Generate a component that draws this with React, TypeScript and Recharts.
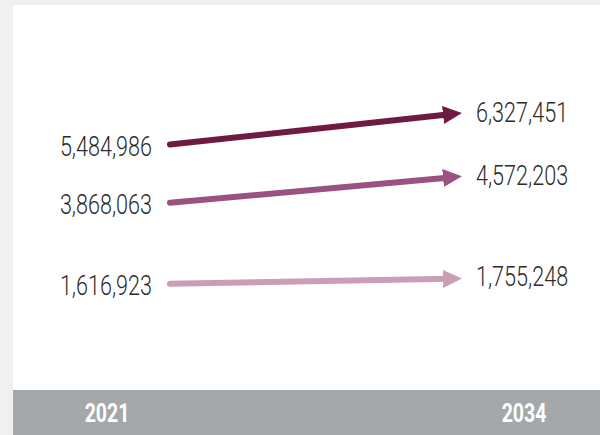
import * as React from "react";
import { LineChart, Line, XAxis, YAxis, LabelList } from "recharts";

const years = ["2021", "2034"];
const seriesTop = [5484986, 6327451];
const seriesMid = [3868063, 4572203];
const seriesLow = [1616923, 1755248];

const colors = { top: "#6f1a41", mid: "#9b5281", low: "#c99fb6" };

const data = years.map((year, i) => ({
  x: i,
  year,
  top: seriesTop[i],
  mid: seriesMid[i],
  low: seriesLow[i],
}));

const fmt = (v: number) => v.toLocaleString("en-US");
const FONT = "Roboto, sans-serif";
const SQUEEZE = 0.8; // no condensed face installed, so squeeze horizontally

// end-point value labels: left of the start, right of the arrow tip
function ValueLabel(props: any) {
  const { x, y, value, index } = props;
  const first = index === 0;
  const tx = first ? x - 18 : x + 26;
  const ty = first ? y + 2 : y - 2;
  return (
    <text
      transform={`translate(${tx},${ty}) scale(${SQUEEZE},1)`}
      x={0}
      y={0}
      textAnchor={first ? "end" : "start"}
      dominantBaseline="central"
      fontFamily={FONT}
      fontWeight={300}
      fontSize={27}
      fill="#2b2b2b"
    >
      {fmt(value)}
    </text>
  );
}

function Arrow({ id, color }: { id: string; color: string }) {
  return (
    <marker
      id={id}
      markerUnits="userSpaceOnUse"
      markerWidth={20}
      markerHeight={18}
      refX={7}
      refY={9}
      orient="auto"
    >
      <path d="M0,0 L19,9 L0,18 Z" fill={color} />
    </marker>
  );
}

export default function App() {
  return (
    <div
      style={{
        position: "absolute",
        left: 0,
        top: 0,
        width: 600,
        height: 435,
        background: "#f0f0f0",
        overflow: "hidden",
      }}
    >
      <div
        style={{
          position: "absolute",
          left: 13,
          top: 5,
          width: 587,
          height: 385,
          background: "#fff",
        }}
      >
        <LineChart
          width={587}
          height={385}
          data={data}
          margin={{ top: 85, right: 150, left: 157, bottom: 48 }}
        >
          <defs>
            <Arrow id="arr-top" color={colors.top} />
            <Arrow id="arr-mid" color={colors.mid} />
            <Arrow id="arr-low" color={colors.low} />
          </defs>
          <XAxis dataKey="x" type="number" domain={[0, 1]} hide />
          <YAxis type="number" domain={[0, 7000000]} hide />
          {(["top", "mid", "low"] as const).map((k) => (
            <Line
              key={k}
              dataKey={k}
              stroke={colors[k]}
              strokeWidth={6}
              strokeLinecap="round"
              dot={false}
              activeDot={false}
              markerEnd={`url(#arr-${k})`}
              isAnimationActive={false}
            >
              <LabelList dataKey={k} content={<ValueLabel />} />
            </Line>
          ))}
        </LineChart>
      </div>
      <div
        style={{
          position: "absolute",
          left: 13,
          top: 390,
          width: 587,
          height: 45,
          background: "#a5a8aa",
        }}
      >
        {years.map((y, i) => (
          <span
            key={y}
            style={{
              position: "absolute",
              left: i === 0 ? 94 : 511,
              top: 0,
              width: 0,
              height: 45,
              display: "flex",
              alignItems: "center",
              justifyContent: "center",
              color: "#fff",
              fontFamily: FONT,
              fontWeight: 700,
              fontSize: 26,
              whiteSpace: "nowrap",
              transform: "scaleX(0.75)",
            }}
          >
            {y}
          </span>
        ))}
      </div>
    </div>
  );
}
